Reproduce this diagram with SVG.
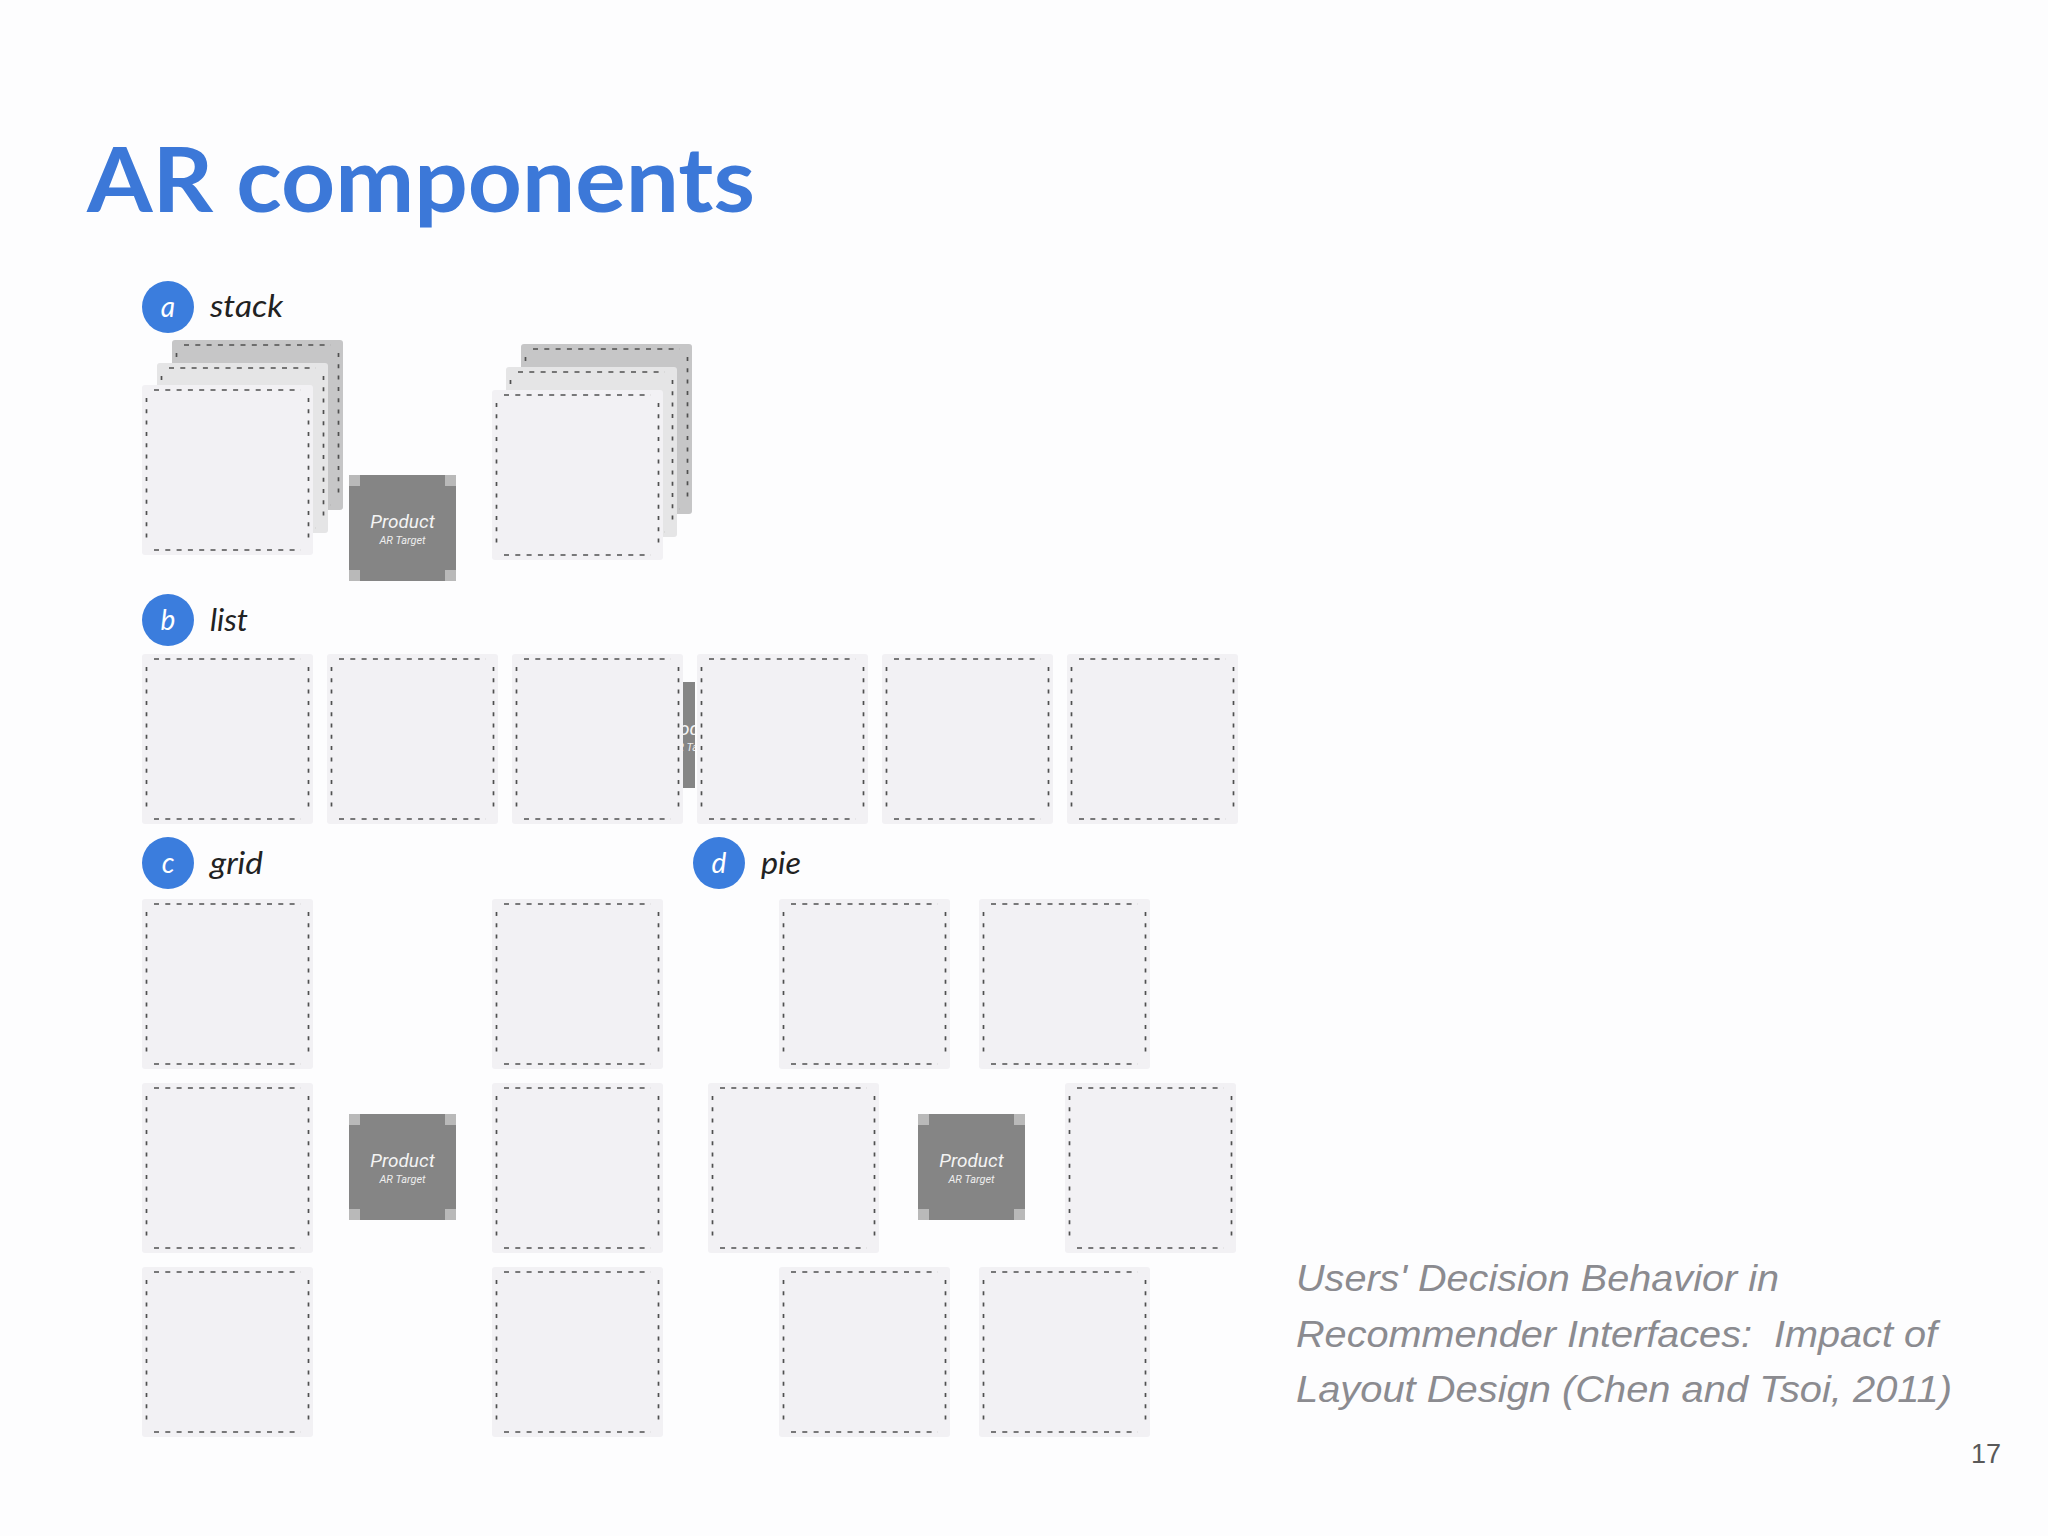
<svg xmlns="http://www.w3.org/2000/svg" xmlns:xlink="http://www.w3.org/1999/xlink" width="2048" height="1536" viewBox="0 0 2048 1536">
<style>
.bg{fill:#fdfdfe}
.title{font-family:Lato,"Open Sans",sans-serif;font-weight:700;font-size:90px;fill:#3c78d8}
.badge{fill:#3b7ddd}
.badgeTxt{font-family:Lato,"Open Sans",sans-serif;font-style:italic;font-size:28px;fill:#ffffff;text-anchor:middle}
.lbl{font-family:Lato,"Open Sans",sans-serif;font-style:italic;font-size:30px;fill:#222222}
.tile{fill:#f2f1f4}
.mid{fill:#e5e5e6}
.back{fill:#c6c6c7}
.dh{fill:none;stroke:#505050;stroke-width:1.7;stroke-dasharray:5 6.3}
.dv{fill:none;stroke:#505050;stroke-width:1.7;stroke-dasharray:4 7.3}
.pbox{fill:#858585}
.pcorner{fill:#b9b9b9}
.ptxt{font-family:Roboto,"Open Sans",sans-serif;font-style:italic;font-weight:400;font-size:19px;fill:#f4f4f4;text-anchor:middle}
.psub{font-family:Roboto,"Open Sans",sans-serif;font-style:italic;font-size:11px;fill:#eeeeee;text-anchor:middle}
.cite{font-family:"Liberation Sans",Arial,sans-serif;font-style:italic;font-size:37px;fill:#8b8b90;white-space:pre}
.pg{font-family:"Liberation Sans",Arial,sans-serif;font-size:27px;fill:#595959}
</style>
<defs>
<g id="tileShape">
<rect x="0" y="0" width="171" height="170" rx="3"/>
<path class="dh" d="M12 5H159M12 165H159"/>
<path class="dv" d="M4.5 13V158M166.5 13V158"/>
</g>
<g id="productShape">
<rect class="pbox" x="0" y="0" width="107" height="106"/>
<rect class="pcorner" x="0" y="0" width="11" height="11"/>
<rect class="pcorner" x="96" y="0" width="11" height="11"/>
<rect class="pcorner" x="0" y="95" width="11" height="11"/>
<rect class="pcorner" x="96" y="95" width="11" height="11"/>
<text class="ptxt" x="53.5" y="53">Product</text>
<text class="psub" x="53.5" y="69">AR Target</text>
</g>
<clipPath id="gapClip"><rect x="682" y="682" width="13" height="106"/></clipPath>
</defs>
<rect class="bg" x="0" y="0" width="2048" height="1536"/>

<text id="title" class="title" x="87" y="212" textLength="668" lengthAdjust="spacingAndGlyphs">AR components</text>

<!-- a: stack -->
<g id="label-a">
<circle class="badge" cx="168" cy="307" r="26"/>
<text class="badgeTxt" x="168" y="317">a</text>
<text class="lbl" x="210" y="317" textLength="73" lengthAdjust="spacingAndGlyphs">stack</text>
</g>
<g id="stack-left">
<use xlink:href="#tileShape" href="#tileShape" class="back" x="172" y="340"/>
<use xlink:href="#tileShape" href="#tileShape" class="mid" x="157" y="363"/>
<use xlink:href="#tileShape" href="#tileShape" class="tile" x="142" y="385"/>
</g>
<g id="stack-product">
<use xlink:href="#productShape" href="#productShape" x="349" y="475"/>
</g>
<g id="stack-right">
<use xlink:href="#tileShape" href="#tileShape" class="back" x="521" y="344"/>
<use xlink:href="#tileShape" href="#tileShape" class="mid" x="506" y="367"/>
<use xlink:href="#tileShape" href="#tileShape" class="tile" x="492" y="390"/>
</g>

<!-- b: list -->
<g id="label-b">
<circle class="badge" cx="168" cy="620" r="26"/>
<text class="badgeTxt" x="168" y="630">b</text>
<text class="lbl" x="210" y="631" textLength="38" lengthAdjust="spacingAndGlyphs">list</text>
</g>
<g id="list-product" clip-path="url(#gapClip)">
<use xlink:href="#productShape" href="#productShape" x="640" y="682"/>
</g>
<g id="list-tiles">
<use xlink:href="#tileShape" href="#tileShape" class="tile" x="142" y="654"/>
<use xlink:href="#tileShape" href="#tileShape" class="tile" x="327" y="654"/>
<use xlink:href="#tileShape" href="#tileShape" class="tile" x="512" y="654"/>
<use xlink:href="#tileShape" href="#tileShape" class="tile" x="697" y="654"/>
<use xlink:href="#tileShape" href="#tileShape" class="tile" x="882" y="654"/>
<use xlink:href="#tileShape" href="#tileShape" class="tile" x="1067" y="654"/>
</g>

<!-- c: grid -->
<g id="label-c">
<circle class="badge" cx="168" cy="863" r="26"/>
<text class="badgeTxt" x="168" y="873">c</text>
<text class="lbl" x="210" y="874" textLength="53" lengthAdjust="spacingAndGlyphs">grid</text>
</g>
<g id="grid-tiles">
<use xlink:href="#tileShape" href="#tileShape" class="tile" x="142" y="899"/>
<use xlink:href="#tileShape" href="#tileShape" class="tile" x="492" y="899"/>
<use xlink:href="#tileShape" href="#tileShape" class="tile" x="142" y="1083"/>
<use xlink:href="#tileShape" href="#tileShape" class="tile" x="492" y="1083"/>
<use xlink:href="#tileShape" href="#tileShape" class="tile" x="142" y="1267"/>
<use xlink:href="#tileShape" href="#tileShape" class="tile" x="492" y="1267"/>
</g>
<g id="grid-product">
<use xlink:href="#productShape" href="#productShape" x="349" y="1114"/>
</g>

<!-- d: pie -->
<g id="label-d">
<circle class="badge" cx="719" cy="863" r="26"/>
<text class="badgeTxt" x="719" y="873">d</text>
<text class="lbl" x="761" y="874" textLength="40" lengthAdjust="spacingAndGlyphs">pie</text>
</g>
<g id="pie-tiles">
<use xlink:href="#tileShape" href="#tileShape" class="tile" x="779" y="899"/>
<use xlink:href="#tileShape" href="#tileShape" class="tile" x="979" y="899"/>
<use xlink:href="#tileShape" href="#tileShape" class="tile" x="708" y="1083"/>
<use xlink:href="#tileShape" href="#tileShape" class="tile" x="1065" y="1083"/>
<use xlink:href="#tileShape" href="#tileShape" class="tile" x="779" y="1267"/>
<use xlink:href="#tileShape" href="#tileShape" class="tile" x="979" y="1267"/>
</g>
<g id="pie-product">
<use xlink:href="#productShape" href="#productShape" x="918" y="1114"/>
</g>

<g id="citation">
<text class="cite" x="1296" y="1291" textLength="483" lengthAdjust="spacingAndGlyphs">Users' Decision Behavior in</text>
<text class="cite" x="1296" y="1347" textLength="641" lengthAdjust="spacingAndGlyphs">Recommender Interfaces:  Impact of</text>
<text class="cite" x="1296" y="1402" textLength="656" lengthAdjust="spacingAndGlyphs">Layout Design (Chen and Tsoi, 2011)</text>
</g>
<text id="page-number" class="pg" x="1971" y="1463">17</text>
</svg>
